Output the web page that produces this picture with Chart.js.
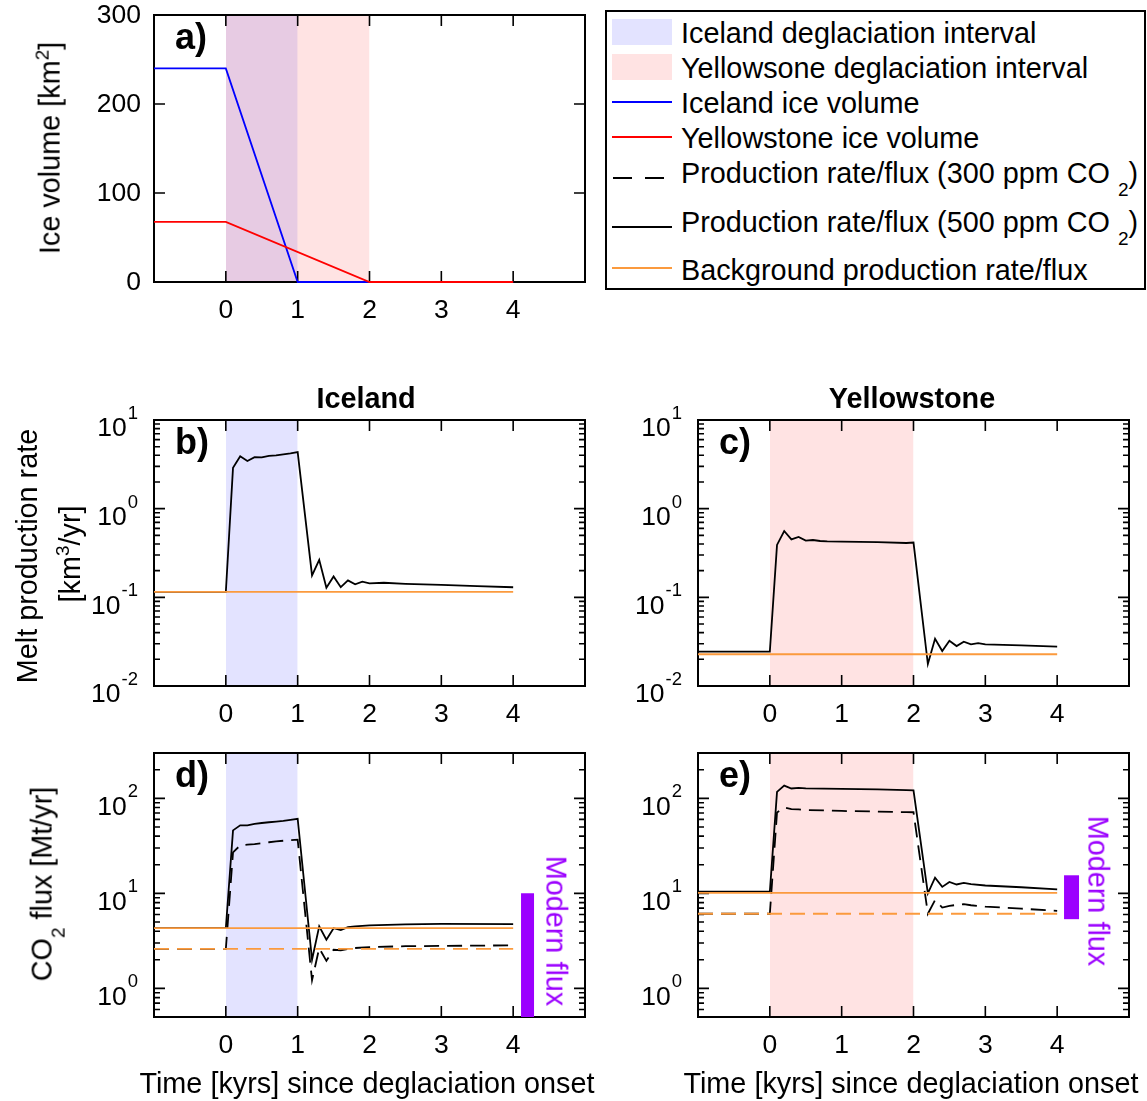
<!DOCTYPE html>
<html>
<head>
<meta charset="utf-8">
<script src="https://cdn.jsdelivr.net/npm/chart.js@4.4.1/dist/chart.umd.min.js"></script>
<style>
body{margin:0;background:#fff;font-family:"Liberation Sans",Arial,Helvetica,sans-serif;color:#000}
#page{position:relative;width:1147px;height:1101px;overflow:hidden}
canvas{position:absolute}
.t{position:absolute;font-size:28.8px;line-height:1;white-space:nowrap}
.c{transform:translate(-50%,-50%)}
.up{transform:translate(-50%,-50%) rotate(-90deg)}
.dn{transform:translate(-50%,-50%) rotate(90deg)}
.b{font-weight:bold}
.pl{font-weight:bold;font-size:36px}
.sp{font-size:19px;position:relative;top:-11px}
.sb{font-size:19px;position:relative;top:13px}
.sw{position:absolute}
</style>
</head>
<body>
<div id="page">
<canvas id="pa"></canvas>
<canvas id="pb"></canvas>
<canvas id="pc"></canvas>
<canvas id="pd"></canvas>
<canvas id="pe"></canvas>

<!-- axis labels -->
<div class="t up" style="left:50px;top:148px">Ice volume [km<span class="sp">2</span>]</div>
<div class="t up" style="left:27px;top:556px">Melt production rate</div>
<div class="t up" style="left:70px;top:554px">[km<span class="sp">3</span>/yr]</div>
<div class="t up" style="left:42px;top:884px">CO<span class="sb">2</span> flux [Mt/yr]</div>
<div class="t c" style="left:367px;top:1083px">Time [kyrs] since deglaciation onset</div>
<div class="t c" style="left:911px;top:1083px">Time [kyrs] since deglaciation onset</div>
<div class="t c b" style="left:366px;top:398px">Iceland</div>
<div class="t c b" style="left:912px;top:398px">Yellowstone</div>

<!-- panel letters -->
<div class="t pl" style="left:175px;top:19px">a)</div>
<div class="t pl" style="left:175px;top:424px">b)</div>
<div class="t pl" style="left:719px;top:424px">c)</div>
<div class="t pl" style="left:175px;top:757px">d)</div>
<div class="t pl" style="left:719px;top:757px">e)</div>

<!-- modern flux -->
<div class="t dn" style="left:556px;top:931px;color:#9b00ff">Modern flux</div>
<div class="t dn" style="left:1098px;top:891px;color:#9b00ff">Modern flux</div>

<!-- legend -->
<div class="sw" style="left:605px;top:10px;width:537px;height:276px;border:2px solid #000"></div>
<div class="sw" style="left:612px;top:19px;width:60px;height:26px;background:rgb(227,227,255)"></div>
<div class="sw" style="left:612px;top:54px;width:60px;height:26px;background:rgb(255,227,227)"></div>
<div class="sw" style="left:612px;top:101px;width:60px;height:2px;background:#0000ff"></div>
<div class="sw" style="left:612px;top:136px;width:60px;height:2px;background:#ff0000"></div>
<div class="sw" style="left:613px;top:177px;width:19px;height:2px;background:#000"></div>
<div class="sw" style="left:645px;top:177px;width:19px;height:2px;background:#000"></div>
<div class="sw" style="left:612px;top:226px;width:60px;height:2px;background:#000"></div>
<div class="sw" style="left:612px;top:267px;width:60px;height:2px;background:#fb9a3d"></div>
<div class="t" style="left:681px;top:19px">Iceland deglaciation interval</div>
<div class="t" style="left:681px;top:54px">Yellowsone deglaciation interval</div>
<div class="t" style="left:681px;top:89px">Iceland ice volume</div>
<div class="t" style="left:681px;top:124px">Yellowstone ice volume</div>
<div class="t" style="left:681px;top:159px">Production rate/flux (300 ppm CO <span class="sb">2</span>)</div>
<div class="t" style="left:681px;top:208px">Production rate/flux (500 ppm CO <span class="sb">2</span>)</div>
<div class="t" style="left:681px;top:256px">Background production rate/flux</div>
</div>

<script>
// ---- data ----
var xTickVals = [0, 1, 2, 3, 4];
var iceBand = [0, 1];
var yelBand = [0, 2];
var tBg = [-1, 4];

// a) ice volume [km2]
var tIceVol = [-1, 0, 1, 4];
var iceVolIceland = [240, 240, 0, 0];
var tYelVol = [-1, 0, 2, 4];
var iceVolYellowstone = [67.5, 67.5, 0, 0];

// b) Iceland melt production rate [km3/yr], 500 ppm
var tMeltIce = [-1, 0, 0.1, 0.2, 0.3, 0.4, 0.5, 0.6, 0.7, 0.8, 0.9, 1.0, 1.2, 1.3, 1.4, 1.5, 1.6, 1.7, 1.8, 1.9, 2.0, 2.2, 2.5, 3.0, 3.5, 4.0];
var meltIce500 = [0.115, 0.115, 2.9, 3.9, 3.45, 3.8, 3.78, 3.95, 4.0, 4.1, 4.2, 4.35, 0.177, 0.265, 0.128, 0.172, 0.13, 0.155, 0.14, 0.15, 0.144, 0.146, 0.142, 0.138, 0.134, 0.13];
var meltIceBg = [0.115, 0.115];

// c) Yellowstone melt production rate, 500 ppm
var tMeltYel = [-1, 0, 0.1, 0.2, 0.3, 0.4, 0.5, 0.6, 0.7, 0.8, 1.0, 1.5, 1.9, 2.0, 2.2, 2.3, 2.4, 2.5, 2.6, 2.7, 2.8, 2.9, 3.0, 3.5, 4.0];
var meltYel500 = [0.0244, 0.0244, 0.39, 0.56, 0.45, 0.48, 0.436, 0.443, 0.432, 0.428, 0.424, 0.42, 0.41, 0.415, 0.0177, 0.034, 0.0248, 0.0324, 0.0282, 0.0316, 0.0295, 0.0305, 0.0295, 0.0287, 0.0278];
var meltYelBg = [0.0228, 0.0228];

// d) Iceland CO2 flux [Mt/yr]
var tFluxIce = [-1, 0, 0.1, 0.2, 0.3, 0.4, 0.5, 0.6, 0.7, 0.8, 0.9, 1.0, 1.2, 1.3, 1.4, 1.5, 1.6, 1.7, 1.8, 2.0, 2.5, 3.0, 4.0];
var fluxIce500 = [4.3, 4.3, 46, 52, 52, 54, 55, 56, 57, 58, 59.5, 61, 2.0, 4.5, 3.25, 4.3, 4.1, 4.4, 4.5, 4.6, 4.72, 4.78, 4.75];
var fluxIce300 = [2.6, 2.6, 27, 32, 32.5, 33, 33.8, 34.5, 35.2, 35.8, 36.3, 36.7, 1.22, 2.65, 1.95, 2.55, 2.52, 2.6, 2.66, 2.72, 2.78, 2.8, 2.84];
var fluxIceBg500 = [4.3, 4.3];
var fluxIceBg300 = [2.6, 2.6];

// e) Yellowstone CO2 flux
var tFluxYel = [-1, 0, 0.1, 0.2, 0.3, 0.4, 0.5, 1.0, 1.5, 1.9, 2.0, 2.2, 2.3, 2.4, 2.5, 2.6, 2.7, 2.8, 3.0, 3.5, 4.0];
var fluxYel500 = [10.4, 10.4, 117, 136, 127, 129, 127, 126, 124, 122, 121, 10, 14.6, 11.7, 13.2, 12.4, 12.9, 12.5, 12.1, 11.6, 11.0];
var fluxYel300 = [6.1, 6.1, 71, 80, 77, 76.5, 75.5, 73.7, 72.5, 71.6, 71.4, 6.1, 8.5, 7.1, 7.4, 7.55, 7.7, 7.5, 7.25, 6.9, 6.55];
var fluxYelBg500 = [10.1, 10.1];
var fluxYelBg300 = [6.1, 6.1];

// modern flux ranges
var modernX = [4.2, 4.2];
var modernIce = [0.5, 10];
var modernYel = [5.35, 15.5];

var BLUE = '#0000ff', RED = '#ff0000', ORANGE = '#fb9a3d', PURPLE = '#9b00ff';
var ICE_SHADE = 'rgba(0,0,255,0.11)', YEL_SHADE = 'rgba(255,0,0,0.11)';
var FONT = '"Liberation Sans", Arial, sans-serif';

function pts(t, v){ return t.map(function(x, i){ return {x: x, y: v[i]}; }); }

function line(t, v, color, dash, order, w){
  return {data: pts(t, v), borderColor: color, borderWidth: w || 1.8, borderDash: dash || [],
    pointRadius: 0, fill: false, tension: 0, order: order, clip: 2, borderCapStyle: 'butt'};
}
function band(x, yTop, color, order, last){
  return {data: [{x: x[0], y: yTop}, {x: x[1], y: yTop}], borderWidth: 0, borderColor: 'rgba(0,0,0,0)',
    backgroundColor: color, fill: 'start', pointRadius: 0, order: order, frameAfter: !!last};
}

function logMinor(min, max){
  var out = [];
  for (var e = Math.floor(Math.log10(min)); e <= Math.ceil(Math.log10(max)); e++){
    for (var m = 2; m <= 9; m++){
      var v = m * Math.pow(10, e);
      if (v > min * 1.0001 && v < max * 0.9999) out.push(v);
    }
  }
  return out;
}

function drawFrame(chart, o){
  var c = chart.ctx, a = chart.chartArea, xs = chart.scales.x, ys = chart.scales.y;
  c.save();
  c.strokeStyle = '#000';
  c.lineWidth = 2;
  c.strokeRect(a.left, a.top, a.right - a.left, a.bottom - a.top);
  c.lineWidth = 1.6;
  c.beginPath();
  xTickVals.forEach(function(v){
    var p = xs.getPixelForValue(v);
    c.moveTo(p, a.bottom); c.lineTo(p, a.bottom - 11);
    c.moveTo(p, a.top); c.lineTo(p, a.top + 11);
  });
  o.yMajor.forEach(function(v){
    var p = ys.getPixelForValue(v);
    c.moveTo(a.left, p); c.lineTo(a.left + 11, p);
    c.moveTo(a.right, p); c.lineTo(a.right - 11, p);
  });
  if (o.log){
    logMinor(ys.min, ys.max).forEach(function(v){
      var p = ys.getPixelForValue(v);
      c.moveTo(a.left, p); c.lineTo(a.left + 6, p);
      c.moveTo(a.right, p); c.lineTo(a.right - 6, p);
    });
  }
  c.stroke();
  c.restore();
}

var framePlugin = {
  id: 'frame',
  afterDatasetDraw: function(chart, args, o){
    if (chart.data.datasets[args.index].frameAfter) drawFrame(chart, o);
  },
  afterDraw: function(chart, args, o){
    var c = chart.ctx, a = chart.chartArea, xs = chart.scales.x, ys = chart.scales.y;
    c.save();
    c.fillStyle = '#000';
    c.font = '26.5px ' + FONT;
    c.textAlign = 'center';
    c.textBaseline = 'middle';
    xTickVals.forEach(function(v){ c.fillText(String(v), xs.getPixelForValue(v), a.bottom + 29); });
    c.textAlign = 'right';
    o.yMajor.forEach(function(v){
      var p = ys.getPixelForValue(v);
      if (o.log){
        var ex = String(Math.round(Math.log10(v)));
        c.font = '18.5px ' + FONT;
        var w = c.measureText(ex).width;
        c.fillText(ex, a.left - 16, p - 6);
        c.font = '26.5px ' + FONT;
        c.fillText('10', a.left - 17 - w, p + 9);
      } else {
        c.fillText(String(v), a.left - 13, p + 1);
      }
    });
    c.restore();
  }
};

function makePanel(id, box, area, yType, yMin, yMax, datasets, frameOpts){
  var el = document.getElementById(id);
  el.style.left = box[0] + 'px'; el.style.top = box[1] + 'px';
  el.style.width = box[2] + 'px'; el.style.height = box[3] + 'px';
  el.width = box[2]; el.height = box[3];
  return new Chart(el.getContext('2d'), {
    type: 'line',
    data: {datasets: datasets},
    options: {
      responsive: false, animation: false, devicePixelRatio: 1,
      layout: {padding: {left: area[0] - box[0], top: area[1] - box[1],
        right: box[0] + box[2] - area[2], bottom: box[1] + box[3] - area[3]}},
      scales: {
        x: {type: 'linear', min: -1, max: 5, display: false},
        y: {type: yType, min: yMin, max: yMax, display: false}
      },
      plugins: {legend: {display: false}, tooltip: {enabled: false}, frame: frameOpts}
    },
    plugins: [framePlugin]
  });
}

// a)
makePanel('pa', [0, 0, 600, 345], [154, 15, 585, 282], 'linear', 0, 300, [
  line(tYelVol, iceVolYellowstone, RED, null, 1),
  line(tIceVol, iceVolIceland, BLUE, null, 2),
  band(yelBand, 300, YEL_SHADE, 20, true),
  band(iceBand, 300, ICE_SHADE, 21)
], {yMajor: [0, 100, 200, 300], log: false});

// b)
makePanel('pb', [0, 380, 600, 360], [154, 420, 585, 686], 'logarithmic', 0.01, 10, [
  line(tBg, meltIceBg, ORANGE, null, 3),
  line(tMeltIce, meltIce500, '#000', null, 5),
  band(iceBand, 10, ICE_SHADE, 20, true)
], {yMajor: [0.01, 0.1, 1, 10], log: true});

// c)
makePanel('pc', [600, 380, 547, 360], [698, 420, 1129, 686], 'logarithmic', 0.01, 10, [
  line(tBg, meltYelBg, ORANGE, null, 3),
  line(tMeltYel, meltYel500, '#000', null, 5),
  band(yelBand, 10, YEL_SHADE, 20, true)
], {yMajor: [0.01, 0.1, 1, 10], log: true});

// d)
makePanel('pd', [0, 740, 600, 361], [154, 753, 585, 1017], 'logarithmic', 0.5, 300, [
  line(modernX, modernIce, PURPLE, null, 1, 13),
  line(tBg, fluxIceBg500, ORANGE, null, 3),
  line(tBg, fluxIceBg300, ORANGE, [15, 8], 4),
  line(tFluxIce, fluxIce500, '#000', null, 5),
  line(tFluxIce, fluxIce300, '#000', [15, 8], 6),
  band(iceBand, 300, ICE_SHADE, 20, true)
], {yMajor: [1, 10, 100], log: true});

// e)
makePanel('pe', [600, 740, 547, 361], [698, 753, 1129, 1017], 'logarithmic', 0.5, 300, [
  line(modernX, modernYel, PURPLE, null, 1, 15),
  line(tBg, fluxYelBg500, ORANGE, null, 3),
  line(tBg, fluxYelBg300, ORANGE, [15, 8], 4),
  line(tFluxYel, fluxYel500, '#000', null, 5),
  line(tFluxYel, fluxYel300, '#000', [15, 8], 6),
  band(yelBand, 300, YEL_SHADE, 20, true)
], {yMajor: [1, 10, 100], log: true});
</script>
</body>
</html>
